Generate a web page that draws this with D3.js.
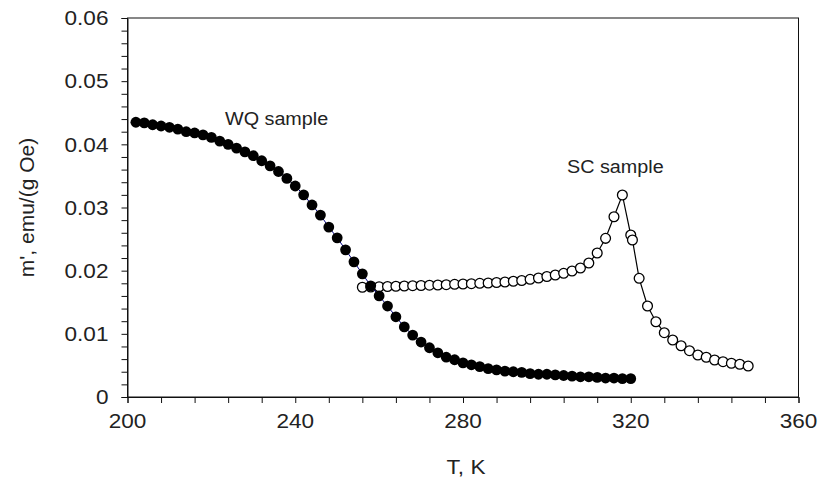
<!DOCTYPE html>
<html>
<head>
<meta charset="utf-8">
<script src="https://cdn.jsdelivr.net/npm/d3@7"></script>
<style>
  body { margin: 0; background: #fff; }
  text { font-family: "Liberation Sans", Arial, sans-serif; fill: #222; }
</style>
</head>
<body>
<div id="chart"></div>
<script>
// WQ sample (filled circles)
const wqT = [202, 204, 206, 208, 210, 212, 214, 216, 218, 220,
             222, 224, 226, 228, 230, 232, 234, 236, 238, 240,
             242, 244, 246, 248, 250, 252, 254, 256, 258, 260,
             262, 264, 266, 268, 270, 272, 274, 276, 278, 280,
             282, 284, 286, 288, 290, 292, 294, 296, 298, 300,
             302, 304, 306, 308, 310, 312, 314, 316, 318, 320];
const wqM = [0.0435, 0.0434, 0.0431, 0.0429, 0.0427, 0.0424, 0.0420, 0.0418, 0.0415, 0.0411,
             0.0405, 0.0400, 0.0394, 0.0388, 0.0382, 0.0374, 0.0366, 0.0357, 0.0346, 0.0334,
             0.0320, 0.0304, 0.0288, 0.0269, 0.0252, 0.0233, 0.0214, 0.0195, 0.0176, 0.0160,
             0.0144, 0.0127, 0.0111, 0.0098, 0.0087, 0.0078, 0.0070, 0.0063, 0.0059, 0.0054,
             0.0051, 0.0048, 0.0045, 0.0043, 0.0041, 0.0040, 0.0039, 0.0037, 0.0036, 0.0036,
             0.0035, 0.0034, 0.0033, 0.0032, 0.0032, 0.0031, 0.0030, 0.0030, 0.0029, 0.0029];

// SC sample (open circles)
const scT = [256, 258, 260, 262, 264, 266, 268, 270, 272, 274,
             276, 278, 280, 282, 284, 286, 288, 290, 292, 294,
             296, 298, 300, 302, 304, 306, 308, 310, 312, 314,
             316, 318, 320, 320.4, 322, 324, 326, 328, 330, 332,
             334, 336, 338, 340, 342, 344, 346, 348];
const scM = [0.01737, 0.01741, 0.01746, 0.01749, 0.01753, 0.01757, 0.01762, 0.01765, 0.01770, 0.01773,
             0.01778, 0.01784, 0.01789, 0.01794, 0.01800, 0.01805, 0.01813, 0.01821, 0.01832, 0.01844,
             0.01863, 0.01884, 0.01908, 0.01931, 0.01958, 0.01995, 0.02042, 0.02121, 0.02280, 0.02512,
             0.02854, 0.03198, 0.02565, 0.02486, 0.01879, 0.01441, 0.01192, 0.01018, 0.00902, 0.00812,
             0.00733, 0.00665, 0.00629, 0.00586, 0.00559, 0.00534, 0.00518, 0.00491];

const xTicks = [200, 240, 280, 320, 360];
const yTicks = [0, 0.01, 0.02, 0.03, 0.04, 0.05, 0.06];
const yTickLabels = ["0", "0.01", "0.02", "0.03", "0.04", "0.05", "0.06"];

const width = 822, height = 488;
const margin = {top: 18, right: 23.5, bottom: 91, left: 127.5};
const stretch = 1.13; // text in the picture is a bit wide

const svg = d3.select("#chart").append("svg")
    .attr("width", width)
    .attr("height", height);

const x = d3.scaleLinear().domain([200, 360]).range([margin.left, width - margin.right]);
const y = d3.scaleLinear().domain([0, 0.06]).range([height - margin.bottom, margin.top]);

// frame
svg.append("rect")
    .attr("x", x(200)).attr("y", y(0.06))
    .attr("width", x(360) - x(200)).attr("height", y(0) - y(0.06))
    .attr("fill", "none").attr("stroke", "#111").attr("stroke-width", 1);

// minor + major ticks, no labels (labels drawn below so they can be stretched)
svg.append("g")
    .attr("transform", `translate(${x(200)},0)`)
    .call(d3.axisLeft(y).ticks(30).tickSize(6).tickFormat(""))
    .call(g => g.selectAll("line,path").attr("stroke", "#111"));

svg.append("g")
    .attr("transform", `translate(0,${y(0)})`)
    .call(d3.axisBottom(x).tickValues(d3.range(200, 361, 8)).tickSize(6).tickFormat(""))
    .call(g => g.selectAll("line,path").attr("stroke", "#111"));

svg.selectAll(".ylab").data(yTicks).enter().append("text")
    .attr("class", "ylab")
    .attr("transform", d => `translate(${x(200) - 19},${y(d)}) scale(${stretch},1)`)
    .attr("dy", "0.36em")
    .attr("text-anchor", "end")
    .style("font-size", "20px")
    .text((d, i) => yTickLabels[i]);

svg.selectAll(".xlab").data(xTicks).enter().append("text")
    .attr("class", "xlab")
    .attr("text-anchor", "middle")
    .style("font-size", "20px")
    .attr("transform", d => `translate(${x(d)},${y(0) + 31}) scale(${stretch},1)`)
    .text(d => d);

// axis titles
svg.append("text")
    .attr("transform", `translate(${(x(200) + x(360)) / 2 + 3},${y(0) + 77}) scale(${stretch},1)`)
    .attr("text-anchor", "middle")
    .style("font-size", "20px")
    .text("T, K");

svg.append("text")
    .attr("transform", `translate(34,${(y(0) + y(0.06)) / 2}) rotate(-90)`)
    .attr("text-anchor", "middle")
    .style("font-size", "21px")
    .text("m', emu/(g Oe)");

const scData = scT.map((t, i) => ({t: t, m: scM[i]}));
const wqData = wqT.map((t, i) => ({t: t, m: wqM[i]}));
const line = d3.line().x(d => x(d.t)).y(d => y(d.m));

// SC sample
svg.append("path")
    .datum(scData)
    .attr("fill", "none")
    .attr("stroke", "#000")
    .attr("stroke-width", 1.2)
    .attr("d", line);

svg.selectAll(".sc").data(scData).enter().append("circle")
    .attr("class", "sc")
    .attr("cx", d => x(d.t))
    .attr("cy", d => y(d.m))
    .attr("r", 4.9)
    .attr("fill", "#fff")
    .attr("stroke", "#000")
    .attr("stroke-width", 1.3);

// WQ sample
svg.append("path")
    .datum(wqData)
    .attr("fill", "none")
    .attr("stroke", "#000080")
    .attr("stroke-width", 1)
    .attr("d", line);

svg.selectAll(".wq").data(wqData).enter().append("circle")
    .attr("class", "wq")
    .attr("cx", d => x(d.t))
    .attr("cy", d => y(d.m))
    .attr("r", 5.4)
    .attr("fill", "#000");

// annotations
svg.append("text")
    .attr("transform", `translate(225,125) scale(${stretch},1)`)
    .style("font-size", "17.5px")
    .text("WQ sample");

svg.append("text")
    .attr("transform", `translate(567,173) scale(${stretch},1)`)
    .style("font-size", "17.5px")
    .text("SC sample");
</script>
</body>
</html>
